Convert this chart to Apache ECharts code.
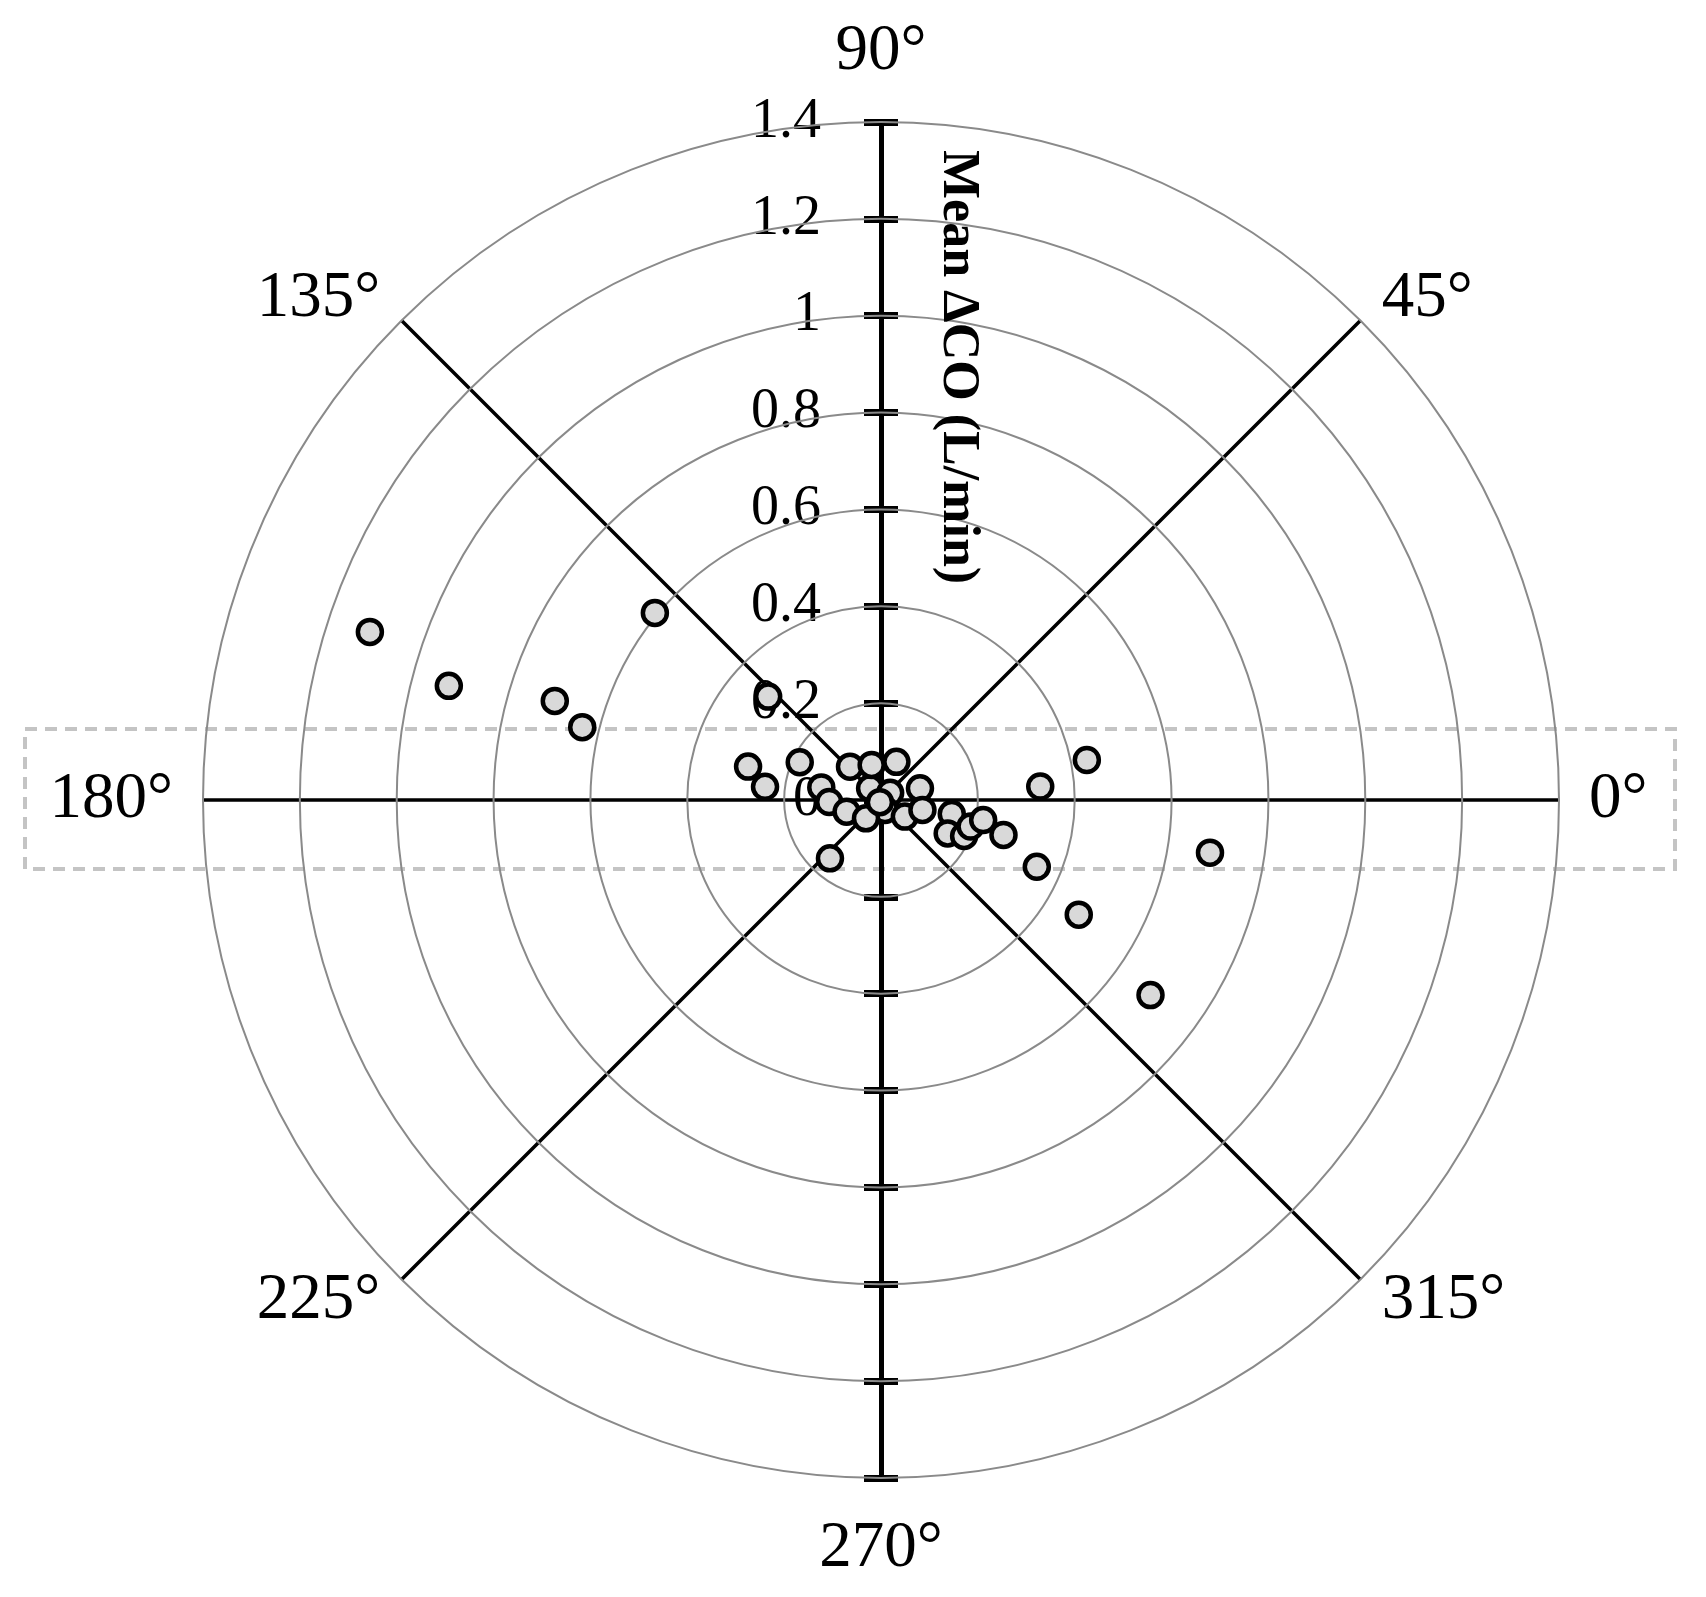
<!DOCTYPE html>
<html>
<head>
<meta charset="utf-8">
<script src="https://cdn.jsdelivr.net/npm/echarts@6/dist/echarts.min.js"></script>
<style>
html,body{margin:0;padding:0;background:#fff;}
#chart{width:1706px;height:1597px;}
</style>
</head>
<body>
<div id="chart"></div>
<script>
// ---- data ----
const radialTickLabels = ['0', '0.2', '0.4', '0.6', '0.8', '1', '1.2', '1.4'];
const angleTickValues = [0, 45, 90, 135, 180, 225, 270, 315];
const angleTickLabels = ['0°', '45°', '90°', '135°', '180°', '225°', '270°', '315°'];
const axisTitle = 'Mean ΔCO (L/min)';
// mean ΔCO (L/min) magnitude and direction (degrees)
const coMagnitude = [0.033, 0.024, 0.022, 1.111, 0.923, 0.704, 0.635, 0.606, 0.316, 0.283, 0.241, 0.185, 0.094, 0.075, 0.085, 0.126, 0.107, 0.075, 0.049, 0.084, 0.060, 0.088, 0.149, 0.154, 0.187, 0.193, 0.215, 0.263, 0.330, 0.433, 0.350, 0.472, 0.688, 0.687, 0.160, 0.005];
const coAngle     = [133,   38,    292,   161.8, 165.2, 163.1, 166.3, 140.4, 137.5, 165.9, 173.5, 155.1, 132.9, 104.9, 68,    168.1, 182.2, 198.8, 230.7, 16.7,  325.2, 346.5, 348.8, 333.4, 336.6, 343.5, 348.9, 344.1, 4.85,  11.0,  336.8, 329.9, 350.9, 324.1, 228.8, 243];

const RMAX = 1.4;
const CENTER = [881, 800];
const RADIUS = 678;
const serif = 'Liberation Serif';

const chart = echarts.init(document.getElementById('chart'), null, {renderer: 'canvas'});

function polarAt() { return {center: CENTER, radius: RADIUS}; }

const tickFmt = function (v, i) { return radialTickLabels[i] !== undefined ? radialTickLabels[i] : String(v); };

const baseRadius = {type: 'value', min: 0, max: RMAX, interval: 0.2, splitLine: {show: false}, axisLabel: {show: false}, axisLine: {show: false}, axisTick: {show: false}};
const tickStyle = {show: true, length: 17, lineStyle: {color: '#000', width: 7}};

const option = {
  backgroundColor: '#ffffff',
  animation: false,
  polar: [polarAt(), polarAt(), polarAt()],
  angleAxis: [
    {polarIndex: 0, type: 'value', min: 0, max: 360, interval: 45, startAngle: 0, clockwise: false,
     axisLine: {show: false}, axisTick: {show: false}, axisLabel: {show: false},
     splitLine: {show: true, lineStyle: {color: '#000', width: 3.5}}, z: 2},
    {polarIndex: 1, type: 'value', min: 0, max: 360, startAngle: 90, show: false},
    {polarIndex: 2, type: 'value', min: 0, max: 360, startAngle: 270, show: false}
  ],
  radiusAxis: [
    Object.assign({}, baseRadius, {polarIndex: 0, z: 4,
      splitLine: {show: true, lineStyle: {color: '#8a8a8a', width: 2}}}),
    Object.assign({}, baseRadius, {polarIndex: 1, z: 3,
      axisLine: {show: true, lineStyle: {color: '#000', width: 5}},
      axisLabel: {show: true, margin: 60, fontSize: 56, fontFamily: serif, color: '#000', formatter: tickFmt}}),
    Object.assign({}, baseRadius, {polarIndex: 2, z: 3,
      axisLine: {show: true, lineStyle: {color: '#000', width: 5}}})
  ],
  // vertical tick marks on both sides of the 90°/270° axis
  grid: {left: CENTER[0], top: CENTER[1] - RADIUS, height: 2 * RADIUS, width: 100, containLabel: false},
  xAxis: {type: 'value', show: false},
  yAxis: [
    {type: 'value', min: -RMAX, max: RMAX, interval: 0.2, position: 'left', offset: 0, z: 3,
     axisLine: {show: false}, axisLabel: {show: false}, splitLine: {show: false},
     axisTick: Object.assign({inside: false}, tickStyle)},
    {type: 'value', min: -RMAX, max: RMAX, interval: 0.2, position: 'left', offset: 0, z: 3,
     axisLine: {show: false}, axisLabel: {show: false}, splitLine: {show: false},
     axisTick: Object.assign({inside: true}, tickStyle)}
  ],
  series: [{
    type: 'scatter',
    coordinateSystem: 'polar',
    polarIndex: 0,
    z: 10,
    symbol: 'circle',
    symbolSize: 24,
    itemStyle: {color: '#d9d9d9', borderColor: '#000', borderWidth: 4.5, opacity: 1},
    data: coMagnitude.map(function (r, i) { return [r, coAngle[i]]; })
  }]
};

chart.setOption(option);

// angle labels and axis title, positioned via the polar coordinate system
const graphics = [];
angleTickValues.forEach(function (a, i) {
  const c = Math.cos(a * Math.PI / 180), s = Math.sin(a * Math.PI / 180);
  const vertical = Math.abs(s) > 0.9;
  const labelR = (vertical ? 716 : 708) / RADIUS * RMAX;
  const p = chart.convertToPixel({seriesIndex: 0}, [labelR, a]);
  const align = c > 0.3 ? 'left' : (c < -0.3 ? 'right' : 'center');
  const valign = vertical ? (s > 0 ? 'bottom' : 'top') : 'middle';
  graphics.push({type: 'text', x: p[0], y: p[1], z: 20,
    style: {text: angleTickLabels[i], font: '65px "' + serif + '"', fill: '#000', align: align, verticalAlign: valign}});
});
const tp = chart.convertToPixel({seriesIndex: 0}, [0.894, 90]);
graphics.push({type: 'text', x: tp[0] + 76, y: tp[1], rotation: -Math.PI / 2, z: 20,
  style: {text: axisTitle, font: 'bold 52px "' + serif + '"', fill: '#000', align: 'center', verticalAlign: 'middle'}});
const cp = chart.convertToPixel({seriesIndex: 0}, [0, 0]);
graphics.push({type: 'rect', z: 1, silent: true,
  shape: {x: 25, y: cp[1] - 71, width: 1650, height: 140},
  style: {fill: 'none', stroke: '#c4c4c4', lineWidth: 4, lineDash: [12, 8]}});
chart.setOption({graphic: graphics});
</script>
</body>
</html>
